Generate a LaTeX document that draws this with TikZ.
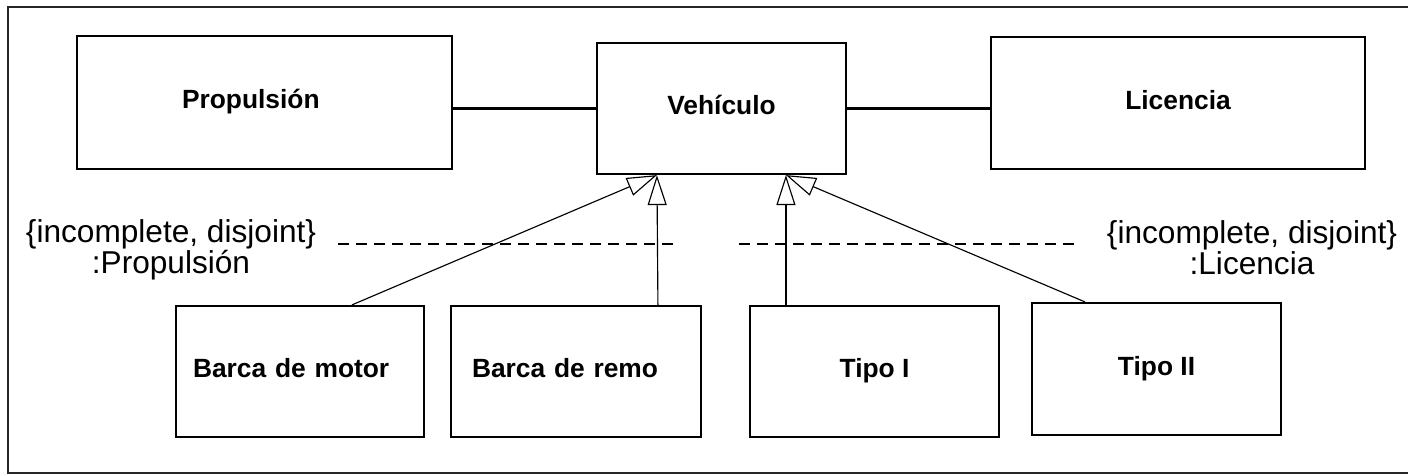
\documentclass[tikz,border=0pt]{standalone}
\usepackage{fontspec}
\setmainfont{Liberation Sans}
\usetikzlibrary{arrows.meta,calc}
\tikzset{
  cls/.style={draw, line width=1.25pt, minimum height=2.62cm,
    font=\fontsize{15}{18}\selectfont\bfseries, text height=0.72em, text depth=0pt},
  gen/.style={line width=0.65pt, -{Triangle[open, length=0.6cm, width=0.38cm]}},
  assoc/.style={line width=1.5pt},
  gset/.style={line width=1.3pt, dash pattern=on 0.22cm off 0.14cm},
  setlbl/.style={align=center, font=\fontsize{18}{16}\selectfont}
}

\begin{document}
\begin{tikzpicture}
  [x=0.02cm, y=-0.02cm]
    \useasboundingbox (0,0) rectangle (1408,475);
    \draw[line width=1.5pt, black!85] (1408,7) -- (8,7) -- (8,473) -- (1408,473);
    \node[cls, text width=3.3cm, inner xsep=2.1cm, align=left, minimum height=2.66cm] (prop) at (264.5,102.5) {Propulsión};
    \node[cls, minimum width=4.98cm] (veh) at (721.5,108.5) {Vehículo};
    \node[cls, minimum width=7.48cm, minimum height=2.64cm] (lic) at (1178,103) {Licencia};
    \node[cls, text width=4.28cm, inner xsep=0.34cm, align=left] (bmotor) at (300,371.5) {Barca de motor};
    \node[cls, text width=4.16cm, inner xsep=0.42cm, align=left] (bremo) at (576,371.5) {Barca de remo};
    \node[cls, minimum width=4.98cm] (tipoI) at (874.5,371.5) {Tipo I};
    \node[cls, minimum width=4.98cm, minimum height=2.64cm] (tipoII) at (1156.5,369) {Tipo II};
    \draw[assoc] (veh.west) -- (veh.west -| prop.east);
    \draw[assoc] (veh.east) -- (veh.east -| lic.west);
    \coordinate (gprop) at ($(veh.south west)+(61,0)$);
    \coordinate (glic) at ($(veh.south west)+(190,0)$);
    \foreach \from/\dx/\to in {bmotor/177/gprop,bremo/208/gprop,
                  tipoI/37/glic,tipoII/54/glic}{
      \draw[gen] ($(\from.north west)+(\dx,0)$) -- (\to);}
    \draw[gset] (338,244) -- (678,244);
    \draw[gset] (739,244) -- (1080,244);
    \node[setlbl] (lprop) at (171,250) {\{incomplete, disjoint\}\\:Propulsión};
    \node[setlbl] (llic) at (1252,248) {\{incomplete, disjoint\}\\:Licencia};
  \end{tikzpicture}
\end{document}
